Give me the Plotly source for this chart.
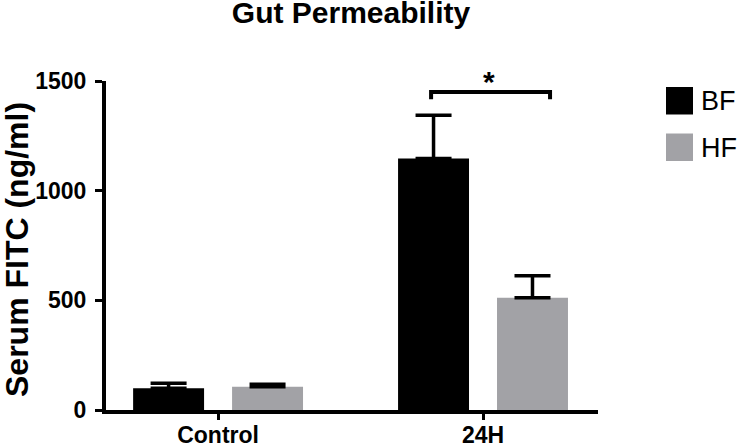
import plotly.graph_objects as go

# ---- data
groups = ["Control", "24H"]
series_names = ["BF", "HF"]
bf_mean = [99, 1147]
bf_sem = [23, 197]
hf_mean = [106, 512]
hf_sem = [11, 100]
series_colors = ["#000000", "#a2a2a6"]
y_ticks = [0, 500, 1000, 1500]
sig_label = "*"

FONT = "Liberation Sans, Arial, Helvetica, sans-serif"

# canvas and plot area in pixels
W, H = 740, 445
PL, PR, PT, PB = 106, 598, 81, 410


def px_x(p):
    return (p - PL) / (PR - PL)


def px_y(p):
    return (PB - p) / (PB - PT)


fig = go.Figure()
for name, mean, sem, col in zip(series_names, [bf_mean, hf_mean], [bf_sem, hf_sem], series_colors):
    fig.add_trace(go.Bar(
        x=groups, y=mean, name=name,
        marker=dict(color=col, line=dict(width=0)),
        error_y=dict(type="data", symmetric=False, array=sem, arrayminus=[0] * len(sem),
                     color="black", thickness=3.5, width=18),
        showlegend=False,
    ))

# significance bracket between the 24H bars
br_x0, br_x1, br_top, br_drop = 0.804, 1.253, 1450, 33
fig.add_shape(type="path", xref="x", yref="y",
              path=f"M {br_x0},{br_top - br_drop} L {br_x0},{br_top} L {br_x1},{br_top} L {br_x1},{br_top - br_drop}",
              line=dict(color="black", width=4))
fig.add_annotation(x=1.023, y=br_top, xref="x", yref="y", text=sig_label, showarrow=False,
                   yanchor="bottom", yshift=-8, font=dict(family=FONT, size=30, color="black", weight="bold"))

# manual legend with large swatches
for i, (name, col) in enumerate(zip(series_names, series_colors)):
    top = 87 + i * 46.5
    fig.add_shape(type="rect", xref="paper", yref="paper",
                  x0=px_x(666), x1=px_x(693), y0=px_y(top + 27.5), y1=px_y(top),
                  fillcolor=col, line=dict(width=0))
    fig.add_annotation(xref="paper", yref="paper", x=px_x(699), y=px_y(top + 14),
                       xanchor="left", yanchor="middle", text=name, showarrow=False,
                       font=dict(family=FONT, size=27, color="black"))

# y-axis title as rotated annotation
fig.add_annotation(xref="paper", yref="paper", x=px_x(17), y=px_y(250), text="Serum FITC (ng/ml)",
                   textangle=-90, showarrow=False, xanchor="center", yanchor="middle",
                   font=dict(family=FONT, size=32, color="black", weight="bold"))

fig.update_layout(
    width=W, height=H,
    margin=dict(l=PL, r=W - PR, t=PT, b=H - PB, autoexpand=False),
    paper_bgcolor="white", plot_bgcolor="white",
    barmode="group", bargap=0.253, bargroupgap=0.283,
    title=dict(text="Gut Permeability", x=px_x(351), xref="paper", xanchor="center",
               y=1 - 2 / H, yref="container", yanchor="top",
               font=dict(family=FONT, size=30, color="black", weight="bold")),
    xaxis=dict(range=[-0.423, 1.434], showline=True, linecolor="black", linewidth=4,
               ticks="outside", ticklen=6, tickwidth=3, tickcolor="black", showgrid=False,
               automargin=False, ticklabelstandoff=-5,
               tickfont=dict(family=FONT, size=23, color="black", weight="bold")),
    yaxis=dict(range=[0, 1500], tickvals=y_ticks, showline=True, linecolor="black", linewidth=4,
               ticks="outside", ticklen=7, tickwidth=3, tickcolor="black", showgrid=False,
               zeroline=False, ticklabelstandoff=4, automargin=False,
               tickfont=dict(family=FONT, size=23, color="black", weight="bold")),
)

# drop the default 8px page margin so the 740x445 figure fills the window
fig.write_html("out.html", config={"displayModeBar": False},
               post_script="document.body.style.margin='0';")
